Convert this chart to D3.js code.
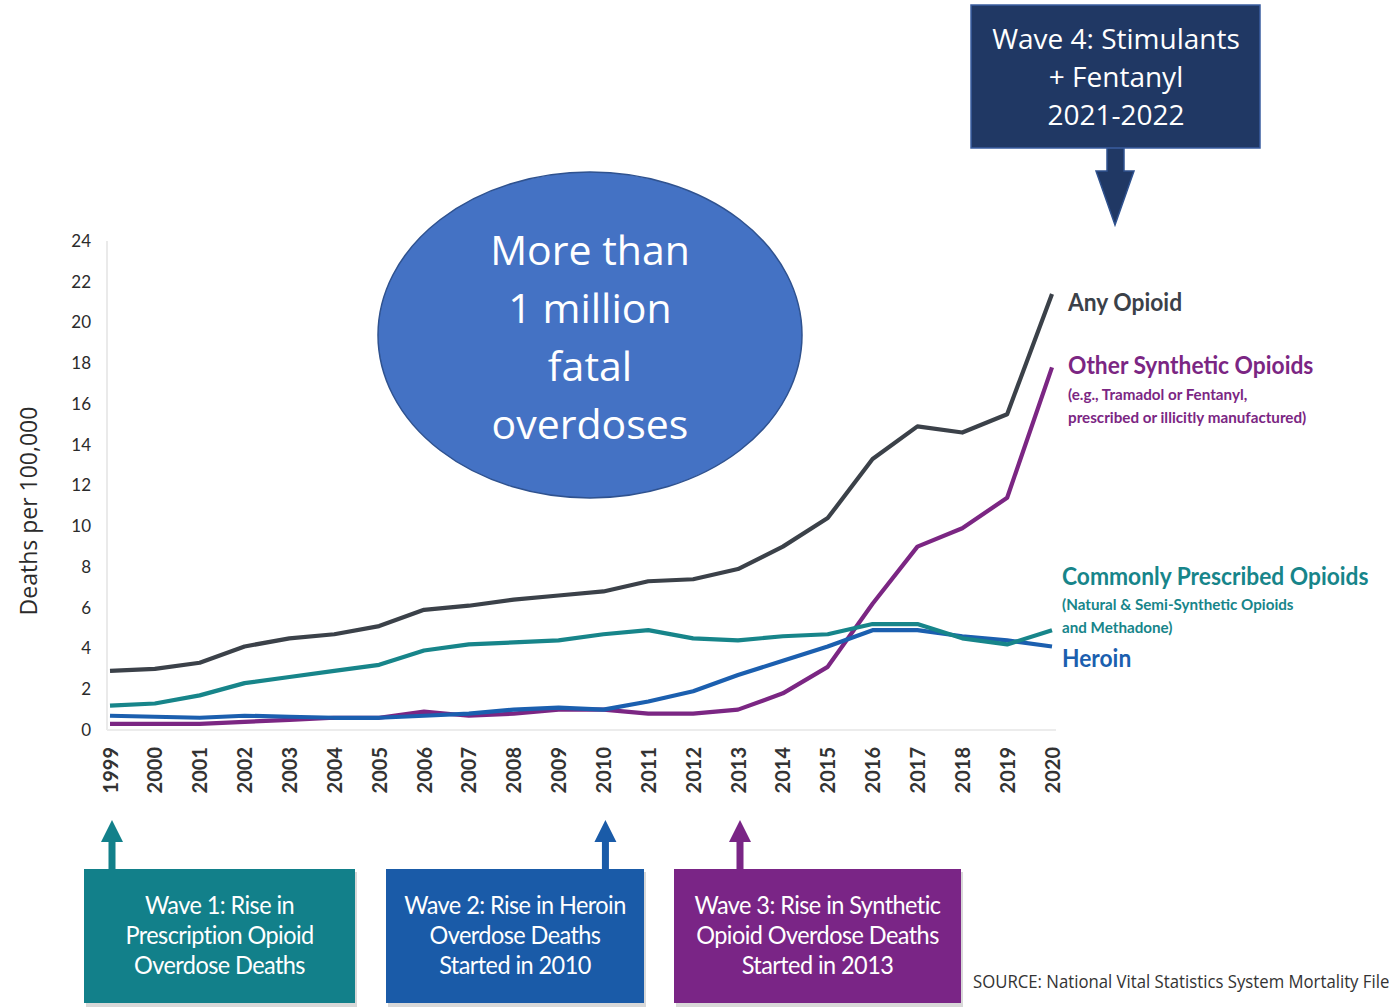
<!DOCTYPE html>
<html>
<head>
<meta charset="utf-8">
<script src="https://cdn.jsdelivr.net/npm/d3@7"></script>
<style>
  body { margin: 0; background: #fff; }
  svg { display: block; }
  .axis text { font-family: Lato, "Open Sans", sans-serif; fill: #2b2b2b; }
  .line { fill: none; stroke-width: 4.2; stroke-linejoin: round; }
</style>
</head>
<body>
<div id="chart"></div>
<script>
var years = [1999, 2000, 2001, 2002, 2003, 2004, 2005, 2006, 2007, 2008, 2009, 2010,
             2011, 2012, 2013, 2014, 2015, 2016, 2017, 2018, 2019, 2020];
var yTicks = [0, 2, 4, 6, 8, 10, 12, 14, 16, 18, 20, 22, 24];

var anyOpioid = [2.9, 3.0, 3.3, 4.1, 4.5, 4.7, 5.1, 5.9, 6.1, 6.4, 6.6, 6.8,
                 7.3, 7.4, 7.9, 9.0, 10.4, 13.3, 14.9, 14.6, 15.5, 21.4];
var commonRx = [1.2, 1.3, 1.7, 2.3, 2.6, 2.9, 3.2, 3.9, 4.2, 4.3, 4.4, 4.7,
                4.9, 4.5, 4.4, 4.6, 4.7, 5.2, 5.2, 4.5, 4.2, 4.9];
var heroin = [0.7, 0.65, 0.6, 0.7, 0.65, 0.6, 0.6, 0.7, 0.8, 1.0, 1.1, 1.0,
              1.4, 1.9, 2.7, 3.4, 4.1, 4.9, 4.9, 4.6, 4.4, 4.1];
var synthetic = [0.3, 0.3, 0.3, 0.4, 0.5, 0.6, 0.6, 0.9, 0.7, 0.8, 1.0, 1.0,
                 0.8, 0.8, 1.0, 1.8, 3.1, 6.2, 9.0, 9.9, 11.4, 17.8];

var bubbleLines = ['More than', '1 million', 'fatal', 'overdoses'];
var wave4Lines = ['Wave 4: Stimulants', '+ Fentanyl', '2021-2022'];

var width = 1389, height = 1007;

var svg = d3.select('#chart').append('svg')
    .attr('width', width)
    .attr('height', height);

var x = d3.scalePoint().domain(years).range([110, 1052]);
var y = d3.scaleLinear().domain([0, 24]).range([730, 241]);

// axis frame lines
svg.append('line')
    .attr('x1', 107).attr('x2', 107)
    .attr('y1', y(24)).attr('y2', y(0))
    .attr('stroke', '#e3e3e3').attr('stroke-width', 1.5);
svg.append('line')
    .attr('x1', 107).attr('x2', 1056)
    .attr('y1', y(0)).attr('y2', y(0))
    .attr('stroke', '#ececec').attr('stroke-width', 2);

var yAxis = d3.axisLeft(y).tickValues(yTicks).tickSize(0).tickPadding(16);
svg.append('g')
    .attr('class', 'y axis')
    .attr('transform', 'translate(107,0)')
    .call(yAxis)
    .call(function(g) { g.select('.domain').remove(); })
    .selectAll('text')
        .style('font-size', '17px');

var xAxis = d3.axisBottom(x).tickSize(0);
svg.append('g')
    .attr('class', 'x axis')
    .attr('transform', 'translate(0,' + y(0) + ')')
    .call(xAxis)
    .call(function(g) { g.select('.domain').remove(); })
    .selectAll('text')
        .attr('transform', 'rotate(-90)')
        .attr('x', -17)
        .attr('y', 0)
        .attr('dy', '0.35em')
        .style('text-anchor', 'end')
        .style('font-size', '20px')
        .style('font-weight', 'bold')
        .style('fill', '#333');

svg.append('text')
    .attr('transform', 'translate(37,511) rotate(-90)')
    .attr('text-anchor', 'middle')
    .style('font-family', '"Open Sans", sans-serif')
    .style('font-size', '23px')
    .style('fill', '#2b2b2b')
    .text('Deaths per 100,000');

var valueline = d3.line()
    .x(function(d, i) { return x(years[i]); })
    .y(function(d) { return y(d); });

var series = [
    {values: synthetic, color: '#7b2683'},
    {values: heroin, color: '#1b5faf'},
    {values: commonRx, color: '#17858a'},
    {values: anyOpioid, color: '#3b4149'}
];
series.forEach(function(s) {
    svg.append('path')
        .attr('class', 'line')
        .attr('d', valueline(s.values))
        .attr('stroke', s.color);
});

// legend labels
var legend = [
    {text: 'Any Opioid', x: 1068, y: 311, size: 24, color: '#3b4149'},
    {text: 'Other Synthetic Opioids', x: 1068, y: 374, size: 24, color: '#7b2683'},
    {text: '(e.g., Tramadol or Fentanyl,', x: 1068, y: 400, size: 16, color: '#7b2683'},
    {text: 'prescribed or illicitly manufactured)', x: 1068, y: 423, size: 16, color: '#7b2683'},
    {text: 'Commonly Prescribed Opioids', x: 1062, y: 585, size: 24, color: '#17858a'},
    {text: '(Natural & Semi-Synthetic Opioids', x: 1062, y: 610, size: 16, color: '#17858a'},
    {text: 'and Methadone)', x: 1062, y: 633, size: 16, color: '#17858a'},
    {text: 'Heroin', x: 1062, y: 667, size: 24, color: '#1b5faf'}
];
legend.forEach(function(l) {
    svg.append('text')
        .attr('transform', 'translate(' + l.x + ',' + l.y + ') scale(0.95,1)')
        .style('font-family', 'Lato, sans-serif')
        .style('font-weight', 'bold')
        .style('font-size', l.size + 'px')
        .style('fill', l.color)
        .text(l.text);
});

// big bubble
svg.append('ellipse')
    .attr('cx', 590).attr('cy', 335)
    .attr('rx', 212).attr('ry', 163)
    .attr('fill', '#4472c4')
    .attr('stroke', '#2f528f')
    .attr('stroke-width', 1.5);
bubbleLines.forEach(function(t, i) {
    svg.append('text')
        .attr('x', 590).attr('y', 265 + i * 58)
        .attr('text-anchor', 'middle')
        .style('font-family', '"Open Sans", sans-serif')
        .style('font-size', '41px')
        .style('fill', '#fff')
        .text(t);
});

// wave 4 call-out
svg.append('path')
    .attr('d', 'M1107,147 V171 H1096 L1115,225 L1134,171 H1124 V147 Z')
    .attr('fill', '#203864')
    .attr('stroke', '#2f528f')
    .attr('stroke-width', 1.5);
svg.append('rect')
    .attr('x', 971).attr('y', 5)
    .attr('width', 289).attr('height', 143)
    .attr('fill', '#203864')
    .attr('stroke', '#3a5da0')
    .attr('stroke-width', 1.5);
wave4Lines.forEach(function(t, i) {
    svg.append('text')
        .attr('x', 1116).attr('y', 49 + i * 38)
        .attr('text-anchor', 'middle')
        .style('font-family', '"Open Sans", sans-serif')
        .style('font-size', '28px')
        .style('fill', '#fff')
        .text(t);
});

// bottom wave boxes
var waves = [
    {x0: 84, x1: 355, year: 1999, color: '#12808a',
     lines: ['Wave 1: Rise in', 'Prescription Opioid', 'Overdose Deaths']},
    {x0: 386, x1: 644, year: 2010, color: '#1a5ba8',
     lines: ['Wave 2: Rise in Heroin', 'Overdose Deaths', 'Started in 2010']},
    {x0: 674, x1: 961, year: 2013, color: '#7a2586',
     lines: ['Wave 3: Rise in Synthetic', 'Opioid Overdose Deaths', 'Started in 2013']}
];
waves.forEach(function(w) {
    var ax = x(w.year) + 2;
    svg.append('rect')
        .attr('x', w.x0 + 2).attr('y', 872)
        .attr('width', w.x1 - w.x0).attr('height', 135)
        .attr('fill', '#d8d8d8');
    svg.append('rect')
        .attr('x', w.x0).attr('y', 869)
        .attr('width', w.x1 - w.x0).attr('height', 134)
        .attr('fill', w.color);
    svg.append('path')
        .attr('d', 'M' + (ax - 3.5) + ',870 V842 H' + (ax - 11) + ' L' + ax + ',820 L' +
              (ax + 11) + ',842 H' + (ax + 3.5) + ' V870 Z')
        .attr('fill', w.color);
    var cx = (w.x0 + w.x1) / 2;
    w.lines.forEach(function(t, i) {
        svg.append('text')
            .attr('transform', 'translate(' + cx + ',' + (914 + i * 30) + ') scale(0.94,1)')
            .attr('text-anchor', 'middle')
            .style('font-family', 'Lato, sans-serif')
            .style('font-size', '25px')
            .style('letter-spacing', '-0.6px')
            .style('fill', '#fff')
            .text(t);
    });
});

svg.append('text')
    .attr('transform', 'translate(973,988) scale(0.93,1)')
    .style('font-family', '"Open Sans", sans-serif')
    .style('font-size', '18px')
    .style('fill', '#333')
    .text('SOURCE: National Vital Statistics System Mortality File');
</script>
</body>
</html>
